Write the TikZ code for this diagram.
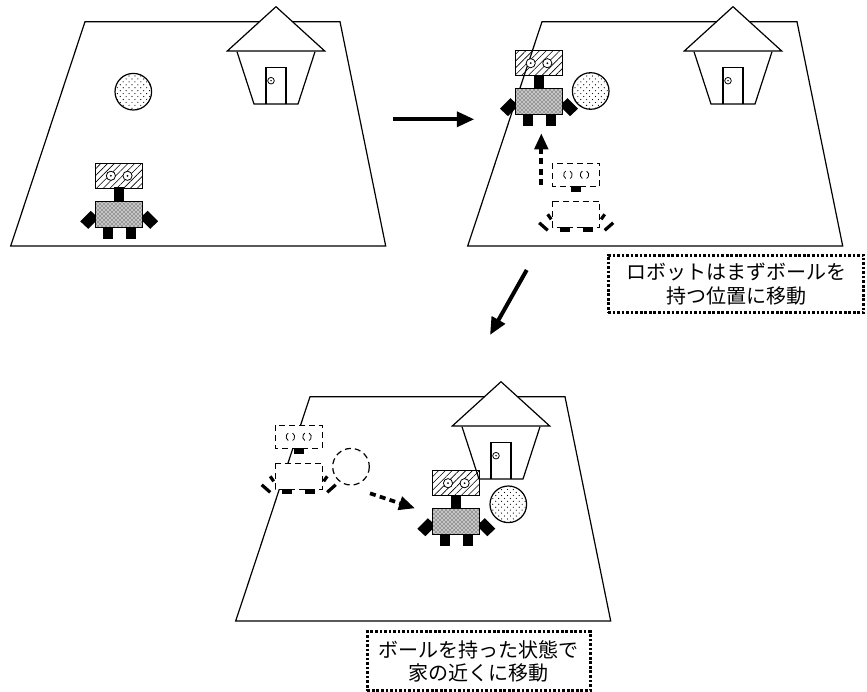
\documentclass[tikz,border=0pt]{standalone}
\usepackage{fontspec}
\newfontfamily\jpfont{Noto Sans CJK JP}
\usetikzlibrary{patterns,patterns.meta,arrows.meta}

% loose staggered dots for the ball
\pgfdeclarepatternformonly{sparse dots}{\pgfqpoint{-1pt}{-1pt}}{\pgfqpoint{5pt}{5pt}}%
  {\pgfqpoint{4.4pt}{4.4pt}}{%
  \pgfpathcircle{\pgfqpoint{0pt}{0pt}}{0.45pt}%
  \pgfpathcircle{\pgfqpoint{2.2pt}{2.2pt}}{0.45pt}%
  \pgfusepath{fill}}

\tikzset{
  outline/.style={line width=0.9pt},
  ghostline/.style={line width=0.9pt, dash pattern=on 4.5pt off 3pt},
  note/.style={draw, line width=2.2pt, dash pattern=on 2pt off 1.4pt,
    align=center, inner sep=2pt, font=\jpfont\fontsize{15}{17.5}\selectfont},
  move/.style={line width=3pt, -{Triangle[length=13pt,width=11pt]}},
  dmove/.style={line width=2.8pt, dash pattern=on 4.5pt off 3.2pt,
    -{Triangle[length=12pt,width=10pt]}},
}

% the floor of one scene
\newcommand\drawfield[2]{%
  \draw[outline,shift={(#1,#2)}] (85,21.7) -- (340,21.7) -- (385.7,246)
    -- (10.7,246) -- cycle;}

% house, given by the tip of its roof
\newcommand\drawhouse[2]{%
  \begin{scope}[shift={(#1,#2)}]
    \draw[outline, fill=white] (-39,45) -- (-22,97.3) -- (22,97.3) -- (39,45);
    \draw[outline, fill=white] (0,0) -- (48.7,44.3) -- (-48.7,44.3) -- cycle;
    \draw[outline] (-10,97.3) -- (-10,61) -- (10,61) -- (10,97.3);
    \draw[line width=0.6pt] (-5,74) circle (3.3);
    \fill (-5,74) circle (0.8);
  \end{scope}}

\newcommand\drawball[2]{%
  \draw[outline, preaction={fill=white}, pattern=sparse dots] (#1,#2) circle (18.3);}

% robot, given by the middle of its body
\newcommand\drawrobot[2]{%
  \begin{scope}[shift={(#1,#2)}]
    % arms sit behind the body
    \fill (-39,7) -- (-28.5,-3.5) -- (-20.5,4) -- (-31,14.5) -- cycle;
    \fill (39,7) -- (28.5,-3.5) -- (20.5,4) -- (31,14.5) -- cycle;
    \fill (-5,-27) rectangle (5,-13);
    \fill (-16.5,13) rectangle (-6.5,24.5);
    \fill (6.5,13) rectangle (16.5,24.5);
    \draw[outline, preaction={fill=gray!45}, pattern=crosshatch dots]
      (-23.5,-13) rectangle (23.5,13);
    \draw[outline, pattern={Lines[angle=45,distance=3.6pt,line width=0.45pt]}]
      (-23.5,-51) rectangle (23.5,-26);
    \foreach \ex in {-8.3,8.3} {
      \draw[line width=0.6pt, fill=white] (\ex,-38.5) circle (4.6);
      \fill (\ex,-38.5) circle (1);
    }
  \end{scope}}

% where the robot was before
\newcommand\drawghost[2]{%
  \begin{scope}[shift={(#1,#2)}]
    \draw[line width=2.4pt] (-37,8.5) -- (-28.5,16);
    \draw[line width=2.4pt] (-28.5,0) -- (-25,5);
    \draw[line width=2.4pt] (37,8.5) -- (28.5,16);
    \draw[line width=2.4pt] (28.5,0) -- (25,5);
    \fill (-16.5,13) rectangle (-6.5,17.5);
    \fill (6.5,13) rectangle (16.5,17.5);
    \draw[ghostline, fill=white] (-23.5,-13) rectangle (23.5,13);
    \fill (-5,-28) rectangle (5,-22);
    \draw[ghostline, fill=white] (-23.5,-51) rectangle (23.5,-28);
    \foreach \ex in {-8.3,8.3} {
      \draw[line width=0.6pt] (\ex,-39.5) ++(120:4.3) arc (120:240:4.3);
      \draw[line width=0.6pt] (\ex,-39.5) ++(-60:4.3) arc (-60:60:4.3);
    }
  \end{scope}}

\begin{document}
\begin{tikzpicture}[x=0.75pt,y=-0.75pt]
  \useasboundingbox (0,0) rectangle (867,692);

  % first scene
  \drawfield{0}{0}
  \drawhouse{276}{6.7}
  \drawball{133.3}{91.7}
  \drawrobot{119.2}{214.3}

  % second scene
  \drawfield{457}{0}
  \drawhouse{733}{6.7}
  \drawball{590.7}{91}
  \drawghost{576.2}{214.3}
  \drawrobot{539}{101.7}

  % third scene
  \drawfield{225}{375}
  \drawhouse{501}{381.7}
  \drawball{508.3}{504.3}
  \draw[ghostline, fill=white] (351,466.7) circle (18.3);
  \drawghost{298.7}{476.3}
  \drawrobot{456.3}{521.7}

  % moves between and inside the scenes
  \coordinate (s1) at (392.7,119.3);
  \coordinate (s2) at (474.3,119.3);
  \coordinate (s3) at (526.7,270);
  \coordinate (s4) at (490,335);
  \coordinate (g1) at (541.3,185);
  \coordinate (g2) at (541.3,133.3);
  \coordinate (g3) at (370,493.3);
  \coordinate (g4) at (415,508.3);
  \draw[move] (s1) -- (s2);
  \draw[move] (s3) -- (s4);
  \draw[dmove] (g1) -- (g2);
  \draw[dmove] (g3) -- (g4);

  \node[note, minimum width=191.8pt, minimum height=43.3pt] (note1)
    at (736,284) {ロボットはまずボールを\\持つ位置に移動};
  \node[note, minimum width=167pt, minimum height=44.3pt] (note2)
    at (478.7,661.2) {ボールを持った状態で\\家の近くに移動};
\end{tikzpicture}
\end{document}
